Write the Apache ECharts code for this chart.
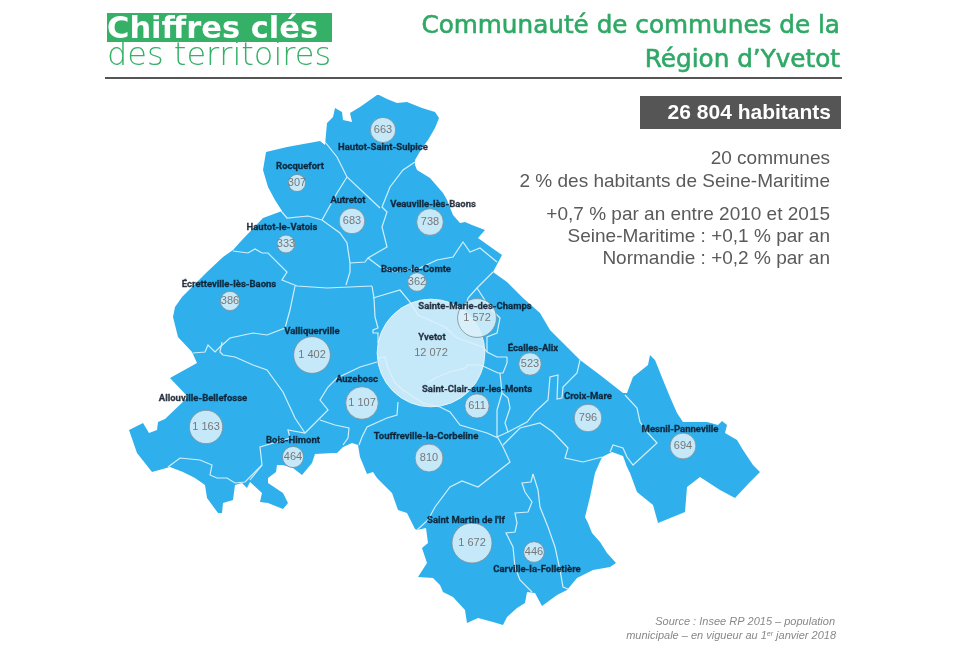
<!DOCTYPE html>
<html>
<head>
<meta charset="utf-8">
<title>Communauté de communes de la Région d'Yvetot</title>
<script src="https://cdn.jsdelivr.net/npm/echarts@6/dist/echarts.min.js"></script>
<style>
html, body { margin: 0; padding: 0; background: #fff; }
#map { width: 970px; height: 650px; }
</style>
</head>
<body>
<div id="map"></div>
<script>
// communes, in draw order (Yvetot first, it sits under the others)
var communes = ['Yvetot', 'Hautot-Saint-Sulpice', 'Rocquefort', 'Autretot', 'Veauville-lès-Baons', 'Hautot-le-Vatois',
	'Baons-le-Comte', 'Écretteville-lès-Baons', 'Valliquerville', 'Sainte-Marie-des-Champs', 'Écalles-Alix',
	'Saint-Clair-sur-les-Monts', 'Auzebosc', 'Allouville-Bellefosse', 'Bois-Himont', 'Touffreville-la-Corbeline',
	'Croix-Mare', 'Mesnil-Panneville', "Saint Martin de l'If", 'Carville-la-Folletière'];
var habitants = [12072, 663, 307, 683, 738, 333, 362, 386, 1402, 1572, 523, 611, 1107, 1163, 464, 810, 796, 694, 1672, 446];
// map coordinates of each commune's bubble and of its name
var bubbleLon = [431, 383, 297, 352, 430, 286, 417, 230, 312, 477, 530, 477, 362, 206, 293, 429, 588, 683, 472, 534];
var bubbleLat = [353, 130, 183, 221, 222, 244, 282, 301, 355, 318, 364, 406, 403, 427, 457, 458, 418, 446, 543, 552];
var nameLon = [432, 383, 300, 348, 433, 282, 416, 229, 312, 475, 533, 477, 357, 203, 293, 426, 588, 680, 466, 537];
var nameLat = [338, 148, 167, 201, 205, 228, 270, 285, 332, 307, 349, 390, 380, 399, 441, 437, 397, 430, 521, 570];

var contour = [[379,95],[387,99],[397,103],[407,102],[422,108],[435,112],[439,118],[435,128],[428,140],[422,148],[415,160],
	[415,165],[417,170],[430,178],[443,193],[447,200],[453,215],[460,223],[465,222],[472,225],[485,230],[478,238],[492,248],
	[502,255],[493,272],[507,282],[523,298],[540,313],[550,330],[563,343],[580,360],[600,375],[623,393],[627,393],[633,377],
	[648,365],[650,355],[655,360],[663,380],[670,397],[677,413],[683,422],[707,422],[718,425],[722,421],[727,425],[725,433],
	[737,440],[743,450],[753,465],[760,472],[750,482],[735,498],[720,490],[700,477],[687,487],[685,512],[658,523],[653,505],
	[637,492],[630,473],[627,467],[623,456],[612,452],[602,457],[595,473],[590,497],[585,517],[588,523],[592,533],[600,542],
	[607,553],[616,563],[610,567],[593,570],[577,578],[567,590],[557,595],[542,606],[535,593],[527,592],[525,603],[517,608],
	[507,617],[503,625],[493,622],[478,618],[467,623],[465,610],[453,597],[443,592],[440,585],[433,578],[418,577],[427,563],
	[422,548],[428,543],[426,528],[417,530],[415,529],[407,513],[398,510],[392,493],[377,478],[373,472],[367,474],[360,457],
	[358,445],[352,443],[343,447],[337,453],[333,453],[315,454],[312,463],[302,475],[293,468],[283,465],[277,465],[276,472],
	[268,478],[268,483],[283,493],[288,503],[283,509],[268,503],[260,502],[262,493],[250,482],[247,488],[242,483],[235,485],
	[233,500],[223,503],[222,513],[218,513],[207,498],[205,485],[195,478],[183,472],[170,467],[152,472],[137,453],[129,430],
	[143,423],[149,433],[157,430],[158,422],[165,419],[188,397],[170,378],[197,363],[192,352],[178,337],[173,317],[175,307],
	[182,297],[207,272],[223,257],[233,250],[242,240],[263,218],[282,211],[275,200],[268,187],[263,170],[266,152],[287,147],
	[320,141],[325,145],[327,123],[333,117],[335,108],[342,112],[343,120],[352,122],[350,113],[360,107],[377,95]];

// limits between communes
var limites = [
	[[325,142],[337,157],[347,177],[380,208]],
	[[415,162],[403,170],[390,187],[382,207],[387,212],[382,227],[387,247],[368,258],[365,262],[350,263],[350,272],[346,285]],
	[[347,177],[337,193],[322,220]],
	[[281,211],[287,218],[308,216],[322,220],[340,233],[347,243],[350,263]],
	[[233,251],[248,253],[255,249],[262,253],[268,253],[287,272],[282,280],[297,286],[327,288],[372,286]],
	[[295,286],[290,310],[285,328],[267,335],[253,333],[230,338],[220,347],[215,352],[208,345],[205,352],[193,353]],
	[[222,342],[220,352],[223,355],[235,357],[253,365],[267,370],[283,392],[295,418],[305,433]],
	[[372,286],[374,298],[375,317],[378,328],[373,330],[373,333],[378,333],[378,343]],
	[[373,298],[400,290],[410,302],[418,315],[445,327],[457,338],[483,347],[487,352],[497,357],[507,357]],
	[[368,258],[380,267],[395,272],[420,268],[437,260],[453,257],[463,242],[470,252],[480,248],[497,262]],
	[[493,272],[477,288],[468,298],[465,310]],
	[[477,288],[490,308],[500,318],[497,333],[487,337],[487,352]],
	[[377,358],[385,357],[388,368],[395,383],[403,390],[423,403],[440,407],[450,412],[460,425],[487,433],[498,438],[503,447],[510,462],[478,487],[462,481],[450,487],[435,507],[428,520],[417,530]],
	[[427,383],[437,377],[450,372],[465,368],[468,365],[480,365],[485,367],[498,373],[503,373],[507,363],[507,357]],
	[[500,373],[502,393],[508,398],[510,408],[505,423],[508,432],[497,437]],
	[[502,393],[497,410],[497,437]],
	[[580,360],[577,373],[563,387],[562,398],[557,399],[558,375],[550,377],[548,400],[535,412],[527,422],[508,432]],
	[[503,445],[520,428],[540,423],[553,432],[568,448],[565,458],[583,462],[602,457]],
	[[533,474],[538,490],[540,507],[548,527],[555,547],[560,570],[563,587],[568,589]],
	[[533,474],[531,482],[522,483],[525,492],[532,502],[528,512],[515,513],[517,523],[515,532],[506,533],[513,547],[515,567],[520,580],[532,592]],
	[[377,362],[360,367],[337,378],[328,387],[320,400],[328,410],[320,418],[305,433],[288,430],[290,438],[260,447],[262,465],[250,480]],
	[[320,420],[335,425],[349,428],[348,438],[343,445]],
	[[398,402],[397,415],[387,418],[367,427],[362,437],[359,445]],
	[[168,467],[180,458],[200,460],[212,465],[210,475],[217,478],[227,478],[235,483],[245,482],[257,470],[262,465]],
	[[625,395],[637,408],[640,422],[647,432],[657,443],[633,465],[627,457],[623,448],[613,445],[610,452]]
];

var headerLines = ['Communauté de communes de la', 'Région d’Yvetot'];
var keyFigure = '26 804 habitants';
var notes = ['20 communes', '2 % des habitants de Seine-Maritime', '+0,7 % par an entre 2010 et 2015',
	'Seine-Maritime : +0,1 % par an', 'Normandie : +0,2 % par an'];

function milliers(v) {
	return String(v).replace(/\B(?=(\d{3})+$)/g, ' ');
}

var myChart = echarts.init(document.getElementById('map'));

echarts.registerMap('yvetot', {
	type: 'FeatureCollection',
	features: [{
		type: 'Feature',
		properties: { name: 'CC Région d\'Yvetot' },
		geometry: { type: 'Polygon', coordinates: [contour] }
	}]
});

var bubbleData = [];
var nameData = [];
for (var i = 0; i < communes.length; i++) {
	bubbleData.push({
		name: communes[i],
		value: [bubbleLon[i], bubbleLat[i], habitants[i]],
		// the big one has no grey edge
		itemStyle: i === 0 ? { borderColor: 'rgba(235,247,253,0.9)' } : null
	});
	nameData.push({ name: communes[i], value: [nameLon[i], nameLat[i]] });
}

var limiteData = [];
for (var j = 0; j < limites.length; j++) {
	limiteData.push({ coords: limites[j] });
}

var graphics = [
	// logo
	{ type: 'rect', shape: { x: 107, y: 13, width: 225, height: 29 }, style: { fill: '#34b067' } },
	{ type: 'text', style: { x: 107, y: 30, text: 'Chiffres clés', fill: '#fff', font: 'bold 30.5px "DejaVu Sans"', verticalAlign: 'middle' } },
	{ type: 'text', style: { x: 107, y: 57, text: 'des territoires', fill: '#34b067', font: '200 32px "DejaVu Sans"', verticalAlign: 'middle' } },
	// rule
	{ type: 'rect', shape: { x: 105, y: 77, width: 737, height: 2 }, style: { fill: '#555' } },
	// title
	{ type: 'text', style: { x: 840, y: 27, text: headerLines[0], fill: '#2fa866', stroke: '#2fa866', lineWidth: 0.6, font: '24.7px "DejaVu Sans"', align: 'right', verticalAlign: 'middle' } },
	{ type: 'text', style: { x: 840, y: 61, text: headerLines[1], fill: '#2fa866', stroke: '#2fa866', lineWidth: 0.6, font: '24.7px "DejaVu Sans"', align: 'right', verticalAlign: 'middle' } },
	// key figure
	{ type: 'rect', shape: { x: 640, y: 96, width: 201, height: 33 }, style: { fill: '#555' } },
	{ type: 'text', style: { x: 831, y: 113, text: keyFigure, fill: '#fff', font: 'bold 21px "Liberation Sans"', align: 'right', verticalAlign: 'middle' } }
];
var noteY = [159, 182, 215, 237, 259];
for (var k = 0; k < notes.length; k++) {
	graphics.push({ type: 'text', style: { x: 830, y: noteY[k], text: notes[k], fill: '#5a5a5a', font: '19px "Liberation Sans"', align: 'right', verticalAlign: 'middle' } });
}
graphics.push({ type: 'text', style: {
	x: 835, y: 622, text: 'Source : Insee RP 2015 – population', fill: '#888',
	font: 'italic 11px "Liberation Sans"', align: 'right', verticalAlign: 'middle'
} });
graphics.push({ type: 'text', style: {
	x: 836, y: 636, text: 'municipale – en vigueur au 1{sup|er} janvier 2018', fill: '#888',
	font: 'italic 11px "Liberation Sans"', align: 'right', verticalAlign: 'middle',
	rich: { sup: { font: 'italic 7px "Liberation Sans"', fill: '#888', verticalAlign: 'top', padding: [0, 0, 4, 0] } }
} });

var option = {
	backgroundColor: '#fff',
	animation: false,
	geo: {
		map: 'yvetot',
		// traced coordinates are kept as they are, y going down
		projection: {
			project: function (p) { return p; },
			unproject: function (p) { return p; }
		},
		boundingCoords: [[0, 0], [970, 650]],
		left: 0,
		top: 0,
		width: 970,
		height: 650,
		roam: false,
		silent: true,
		label: { show: false },
		itemStyle: { areaColor: '#2fb0ec', borderWidth: 0 }
	},
	graphic: { elements: graphics },
	series: [
		{
			type: 'lines',
			coordinateSystem: 'geo',
			polyline: true,
			silent: true,
			lineStyle: { color: '#d2eefb', width: 1.2, opacity: 1 },
			data: limiteData
		},
		{
			type: 'scatter',
			coordinateSystem: 'geo',
			silent: true,
			symbolSize: function (v) { return 0.98 * Math.sqrt(v[2]); },
			itemStyle: { opacity: 1, color: 'rgba(220,240,251,0.88)', borderColor: 'rgba(125,140,150,0.8)', borderWidth: 1 },
			label: {
				show: true,
				position: 'inside',
				color: '#777',
				fontFamily: 'Liberation Sans',
				fontSize: 11,
				formatter: function (p) { return milliers(p.value[2]); }
			},
			data: bubbleData
		},
		{
			type: 'scatter',
			coordinateSystem: 'geo',
			silent: true,
			symbolSize: 0,
			label: {
				show: true,
				position: 'inside',
				color: '#061020',
				textBorderColor: '#061020',
				textBorderWidth: 0.3,
				fontFamily: 'Roboto',
				fontWeight: 'bold',
				fontSize: 9.5,
				formatter: '{b}'
			},
			z: 5,
			data: nameData
		}
	]
};
myChart.setOption(option);
</script>
</body>
</html>
